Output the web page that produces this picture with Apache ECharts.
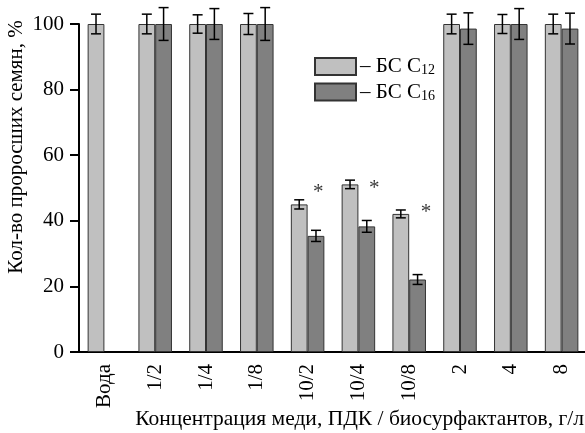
<!DOCTYPE html>
<html>
<head>
<meta charset="utf-8">
<script src="https://cdn.jsdelivr.net/npm/echarts@6/dist/echarts.min.js"></script>
<style>html,body{margin:0;padding:0;background:#fff;}#c{width:585px;height:433px;}</style>
</head>
<body>
<div id="c"></div>
<script>
var categories = ['Вода', '1/2', '1/4', '1/8', '10/2', '10/4', '10/8', '2', '4', '8'];
var c12Values = [100, 100, 100, 100, 45, 51.1, 42.1, 100, 100, 100];
var c12Errors = [3, 3, 2.8, 3.2, 1.4, 1.3, 1.2, 3, 2.9, 3];
var c16Values = ['-', 100, 100, 100, 35.4, 38.3, 22.1, 98.6, 100, 98.6];
var c16Errors = ['-', 5, 4.7, 5, 1.7, 1.8, 1.5, 4.8, 4.7, 4.7];
var asteriskX = [4.71, 5.81, 6.83];
var asteriskY = [50.0, 51.0, 43.9];
var yTicks = [0, 20, 40, 60, 80, 100];

var FONT = "'Liberation Serif', 'Times New Roman', serif";
var FS = 21;
var BAR_FRAC = 0.33;

function errData(vals, errs) {
  var out = [];
  for (var i = 0; i < vals.length; i++) {
    if (vals[i] === '-' ) continue;
    out.push([i, vals[i] - errs[i], vals[i] + errs[i]]);
  }
  return out;
}
function makeErr(side) {
  return function (params, api) {
    var idx = api.value(0);
    var lo = api.coord([idx, api.value(1)]);
    var hi = api.coord([idx, api.value(2)]);
    var band = api.size([1, 0])[0];
    var off = side * band * BAR_FRAC / 2;
    var x = lo[0] + off;
    var cap = 5;
    var st = { stroke: '#000', lineWidth: 1.5 };
    return {
      type: 'group',
      children: [
        { type: 'line', shape: { x1: x, y1: lo[1], x2: x, y2: hi[1] }, style: st },
        { type: 'line', shape: { x1: x - cap, y1: lo[1], x2: x + cap, y2: lo[1] }, style: st },
        { type: 'line', shape: { x1: x - cap, y1: hi[1], x2: x + cap, y2: hi[1] }, style: st }
      ]
    };
  };
}

var asteriskData = asteriskX.map(function (x, i) { return [x, asteriskY[i]]; });

var chart = echarts.init(document.getElementById('c'), null, { renderer: 'canvas' });
chart.setOption({
  backgroundColor: '#fff',
  animation: false,
  textStyle: { fontFamily: FONT, color: '#000' },
  grid: { left: 79, top: 24, width: 508, height: 328, containLabel: false, outerBoundsMode: 'none' },
  legend: {
    orient: 'vertical',
    left: 309, top: 51,
    itemWidth: 41, itemHeight: 17, itemGap: 4,
    icon: 'rect',
    data: ['C12', 'C16'],
    formatter: function (name) { return name === 'C12' ? '– БС С{sub|12}' : '– БС С{sub|16}'; },
    textStyle: {
      fontFamily: FONT, fontSize: FS, color: '#000', padding: [0, 0, 0, -1],
      rich: { sub: { fontFamily: FONT, fontSize: 14, verticalAlign: 'bottom', padding: [8, 0, 0, 0] } }
    }
  },
  xAxis: [{
    type: 'category',
    data: categories,
    boundaryGap: true,
    axisLine: { lineStyle: { color: '#000', width: 2 } },
    axisTick: { alignWithLabel: false, length: 9, lineStyle: { color: '#000', width: 2 } },
    axisLabel: { rotate: 90, fontFamily: FONT, fontSize: FS, color: '#000', margin: 12, interval: 0 },
    name: 'Концентрация меди, ПДК / биосурфактантов, г/л',
    nameLocation: 'end',
    nameMoveOverlap: false,
    nameTextStyle: { fontFamily: FONT, fontSize: 21.5, color: '#000', align: 'right', verticalAlign: 'top', padding: [56, 3, 0, 0] },
    nameGap: 0
  }, {
    type: 'value', min: 0, max: 10, show: false, position: 'bottom'
  }],
  yAxis: {
    type: 'value', min: 0, max: 100, interval: 20,
    axisLine: { show: true, lineStyle: { color: '#000', width: 2 } },
    axisTick: { show: true, length: 9, lineStyle: { color: '#000', width: 2 } },
    splitLine: { show: false },
    axisLabel: { fontFamily: FONT, fontSize: FS, color: '#000', margin: 15,
      formatter: function (v) { return yTicks.indexOf(v) >= 0 ? String(v) : ''; } },
    name: 'Кол-во проросших семян, %',
    nameLocation: 'middle',
    nameMoveOverlap: false,
    nameGap: 52,
    nameTextStyle: { fontFamily: FONT, fontSize: FS, color: '#000', padding: [0, 0, 0, 82] }
  },
  series: [
    { name: 'C12', type: 'bar', data: c12Values, barWidth: '33%', barGap: '0%',
      itemStyle: { color: '#c0c0c0', borderColor: '#333', borderWidth: 1 } },
    { name: 'C16', type: 'bar', data: c16Values, barWidth: '33%', barGap: '0%',
      itemStyle: { color: '#808080', borderColor: '#333', borderWidth: 1 } },
    { type: 'custom', renderItem: makeErr(-1), data: errData(c12Values, c12Errors), z: 10, silent: true },
    { type: 'custom', renderItem: makeErr(1), data: errData(c16Values, c16Errors), z: 10, silent: true },
    { type: 'scatter', xAxisIndex: 1, data: asteriskData, symbolSize: 1, itemStyle: { color: 'rgba(0,0,0,0)' },
      label: { show: true, position: 'inside', formatter: '*', fontFamily: FONT, fontSize: 21, color: '#000', offset: [0, 4] }, z: 10 }
  ]
});
</script>
</body>
</html>
